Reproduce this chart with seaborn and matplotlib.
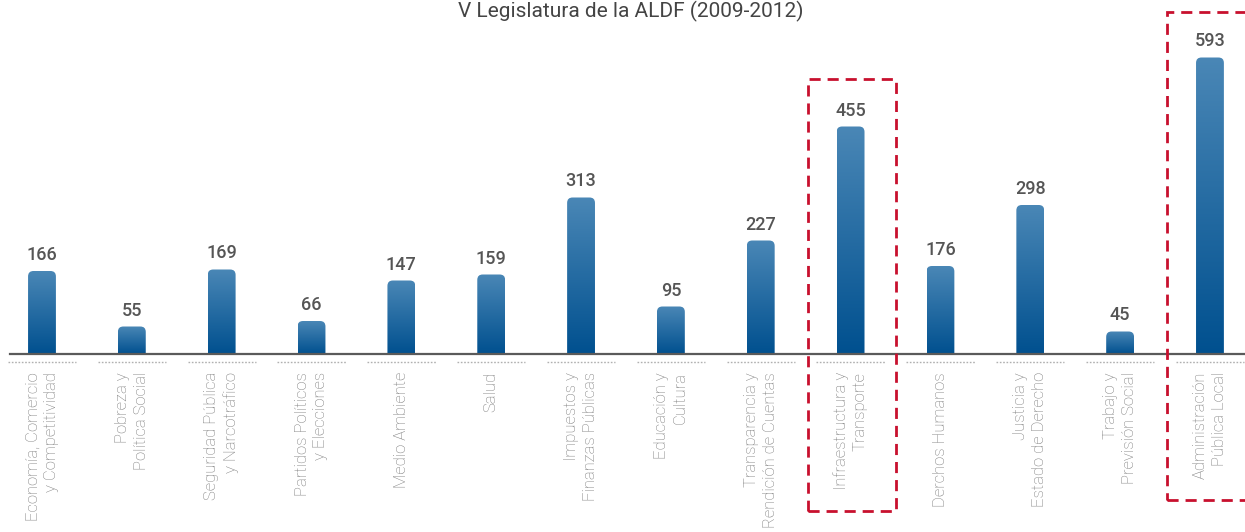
import matplotlib.pyplot as plt
import numpy as np
import pandas as pd
import seaborn as sns
from matplotlib.patches import FancyBboxPatch, Rectangle
from matplotlib.colors import LinearSegmentedColormap

# Data
temas = [
    "Economía, Comercio\ny Competitividad",
    "Pobreza y\nPolítica Social",
    "Seguridad Pública\ny Narcotráfico",
    "Partidos Políticos\ny Elecciones",
    "Medio Ambiente",
    "Salud",
    "Impuestos y\nFinanzas Públicas",
    "Educación y\nCultura",
    "Transparencia y\nRendición de Cuentas",
    "Infraestructura y\nTransporte",
    "Derchos Humanos",
    "Justicia y\nEstado de Derecho",
    "Trabajo y\nPrevisión Social",
    "Administración\nPública Local",
]
iniciativas = [166, 55, 169, 66, 147, 159, 313, 95, 227, 455, 176, 298, 45, 593]
resaltados = ["Infraestructura y\nTransporte", "Administración\nPública Local"]
titulo = "V Legislatura de la ALDF (2009-2012)"

df = pd.DataFrame({"tema": temas, "n": iniciativas})

sns.set_style("white")
plt.rcParams["font.family"] = ["Roboto", "DejaVu Sans"]

fig = plt.figure(figsize=(12.45, 5.32), dpi=100)
ax = fig.add_axes([10 / 1245, 178 / 532, 1235 / 1245, 325 / 532])

sns.barplot(data=df, x="tema", y="n", color="#2e6fa3", width=0.31, ax=ax)
ax.set_xlim(-0.356, 13.39)
ax.set_ylim(0, 650)

# gradient fill with rounded tops
cmap = LinearSegmentedColormap.from_list("azul", ["#00508f", "#4a87b6"])
grad = np.linspace(0, 1, 256).reshape(-1, 1)
aspect = 2 * 89.85
for p in ax.patches:
    x0, w, h = p.get_x(), p.get_width(), p.get_height()
    p.set_visible(False)
    clip = FancyBboxPatch((x0, -30), w, h + 30,
                          boxstyle="round,pad=0,rounding_size=0.06",
                          mutation_aspect=aspect, facecolor="none",
                          edgecolor="none", transform=ax.transData)
    ax.add_patch(clip)
    im = ax.imshow(grad, extent=(x0, x0 + w, 0, h), origin="lower",
                   cmap=cmap, aspect="auto", zorder=2)
    im.set_clip_path(clip)

for i, v in enumerate(iniciativas):
    ax.text(i, v + 14, str(v), ha="center", va="bottom", fontsize=13,
            fontweight="medium", color="#555555")

# axes styling
for s in ["top", "right", "left"]:
    ax.spines[s].set_visible(False)
ax.spines["bottom"].set_color("#5a5a5a")
ax.spines["bottom"].set_linewidth(1.6)
ax.set_yticks([])
ax.set_xlabel("")
ax.set_ylabel("")
ax.tick_params(axis="x", length=0, pad=13)
for lbl in ax.get_xticklabels():
    lbl.set_rotation(90)
    lbl.set_ha("center")
    lbl.set_va("top")
    lbl.set_multialignment("right")
    lbl.set_linespacing(1.3)
    lbl.set_fontsize(12)
    lbl.set_fontweight("light")
    lbl.set_color("#7a7a7a")

# dotted separators under each category
for i in range(len(temas)):
    ax.plot([i - 0.38, i + 0.38], [-16, -16], color="#b0b0b0",
            linestyle=(0, (1.2, 1.2)), linewidth=1, clip_on=False)

# red dashed highlight boxes
cajas = {resaltados[0]: (-0.47, 0.51, -314, 550), resaltados[1]: (-0.48, 0.6, -292, 684)}
for nombre, (dl, dr, yb, yt) in cajas.items():
    i = temas.index(nombre)
    ax.add_patch(Rectangle((i + dl, yb), dr - dl, yt - yb, fill=False,
                           edgecolor="#c8102e", linewidth=2, linestyle=(0, (4, 2.5)),
                           clip_on=False, zorder=5))

fig.text(0.507, 1 - 17 / 532, titulo, ha="center", va="baseline",
         fontsize=15, color="#444444")

fig.savefig("out.png", dpi=100)
